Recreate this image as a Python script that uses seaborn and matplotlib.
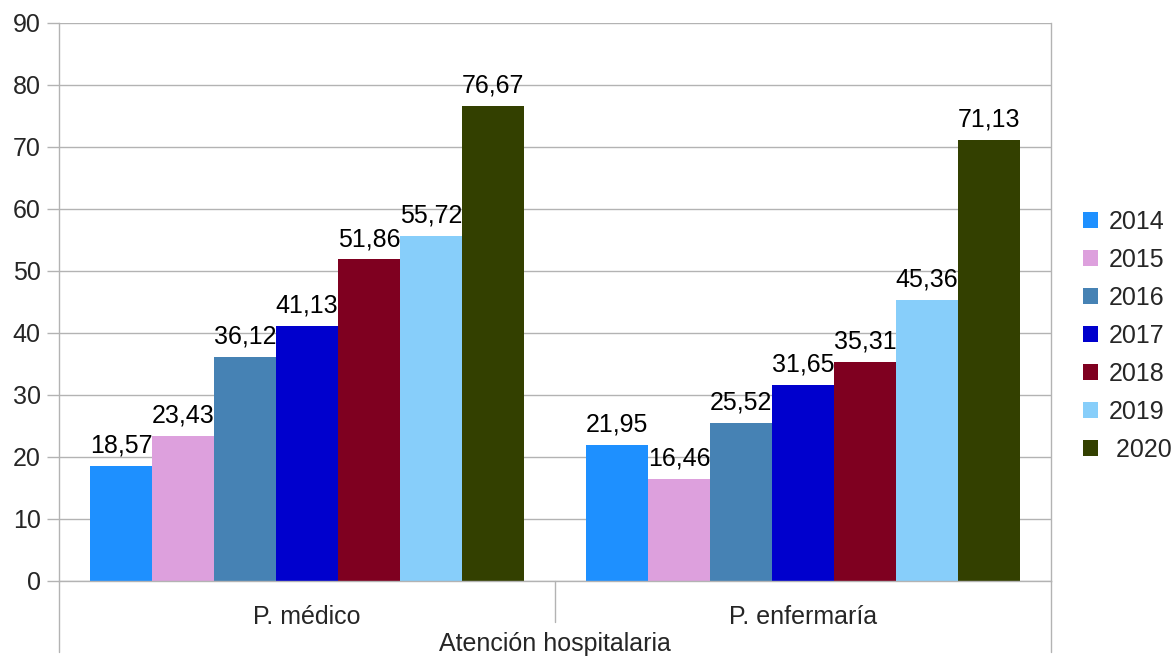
import matplotlib
matplotlib.use("Agg")
import matplotlib.pyplot as plt
import seaborn as sns
import pandas as pd

# data
categories = ["P. médico", "P. enfermaría"]
years = ["2014", "2015", "2016", "2017", "2018", "2019", "2020"]
medico = [18.57, 23.43, 36.12, 41.13, 51.86, 55.72, 76.67]
enfermeria = [21.95, 16.46, 25.52, 31.65, 35.31, 45.36, 71.13]
legend_labels = ["2014", "2015", "2016", "2017", "2018", "2019", " 2020"]
group_label = "Atención hospitalaria"

colors = ["#1e90ff", "#dda0dd", "#4682b4", "#0000cd", "#7f0020", "#87cefa", "#334000"]

rows = []
for cat, vals in zip(categories, [medico, enfermeria]):
    for y, v in zip(years, vals):
        rows.append({"cat": cat, "year": y, "value": v})
df = pd.DataFrame(rows)

sns.set_theme(style="white")
plt.rcParams["font.family"] = ["Liberation Sans", "DejaVu Sans"]
grid_c = "#b3b3b3"
fs = 18

fig = plt.figure(figsize=(11.75, 6.58), dpi=100)
ax = fig.add_axes([59 / 1175, 1 - 581 / 658, (1051 - 59) / 1175, (581 - 23) / 658])

sns.barplot(data=df, x="cat", y="value", hue="year", order=categories,
            hue_order=years, palette=colors, width=0.875, saturation=1,
            linewidth=0, ax=ax, legend=True)

# value labels with decimal comma
for cont in ax.containers:
    ax.bar_label(cont, labels=[f"{v:.2f}".replace(".", ",") for v in cont.datavalues],
                 fontsize=fs, padding=6, color="black")

ax.set_ylim(0, 90)
ax.set_yticks(range(0, 91, 10))
ax.set_xlim(-0.5, 1.5)
ax.yaxis.grid(True, color=grid_c, linewidth=1)
ax.set_axisbelow(True)
ax.tick_params(axis="y", length=8.6, color=grid_c, width=1, labelsize=fs, pad=4.5, left=True)
ax.tick_params(axis="x", length=0, labelsize=fs, pad=17)
ax.set_xlabel("")
ax.set_ylabel("")
for s in ["left", "right", "bottom", "top"]:
    ax.spines[s].set_color(grid_c)
    ax.spines[s].set_linewidth(1)
ax.spines["top"].set_visible(False)

# LibreOffice-style category separators and outer group label
tr = ax.get_xaxis_transform()
ax.plot([-0.5, -0.5], [0, -0.128], transform=tr, color=grid_c, lw=1, clip_on=False)
ax.plot([1.5, 1.5], [0, -0.128], transform=tr, color=grid_c, lw=1, clip_on=False)
ax.plot([0.5, 0.5], [0, -0.074], transform=tr, color=grid_c, lw=1, clip_on=False)
ax.text(0.5, -0.125, group_label, transform=tr, ha="center", va="baseline", fontsize=fs)

handles, _ = ax.get_legend_handles_labels()
ax.legend(handles, legend_labels, loc="center left", bbox_to_anchor=(1083 / 1175, 1 - 336 / 658),
          bbox_transform=fig.transFigure, frameon=False, fontsize=fs,
          handlelength=0.6, handleheight=0.6, handletextpad=0.45, labelspacing=0.56,
          borderaxespad=0, borderpad=0)

fig.savefig("out.png", dpi=100)
